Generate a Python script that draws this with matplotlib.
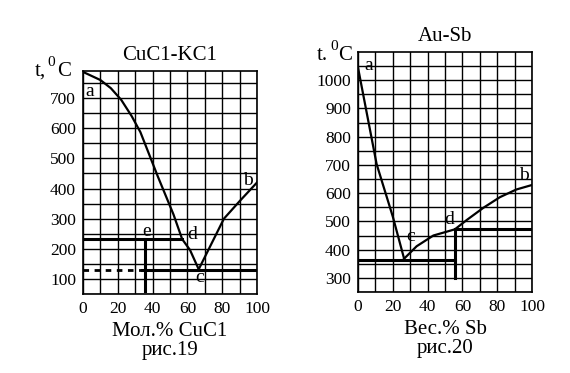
import matplotlib.pyplot as plt

plt.rcParams['font.family'] = ['Liberation Serif', 'DejaVu Serif']

# CuCl-KCl diagram (left)
cu_liq1_x = [0, 10, 16, 22, 28, 33, 43, 52, 57, 61.5, 66.5]
cu_liq1_t = [787, 760, 733, 694, 640, 587, 440, 314, 232, 196, 132]
cu_liq2_x = [66.5, 81, 90, 100]
cu_liq2_t = [132, 300, 358, 420]
cu_d_x, cu_d_t = 57, 232
cu_e_x = 35.5
cu_eut_t = 130
cu_eut_start = 34

# Au-Sb diagram (right)
au_liq1_x = [0, 5, 10.7, 15, 20, 26.5]
au_liq1_t = [1045, 885, 703, 617, 517, 368]
au_liq2_x = [26.5, 33.7, 43.3, 55.7, 62.5, 72, 81.6, 91, 100]
au_liq2_t = [368, 412, 450, 472, 505, 548, 586, 613, 629]
au_eut_t = 365
au_d_x, au_d_t = 55.7, 472

# point labels (letter, x, t)
cu_labels = [("a", 4, 722), ("b", 95, 428), ("e", 36.6, 257), ("d", 62.5, 246), ("c", 67, 104)]
au_labels = [("a", 6, 1051), ("b", 95.4, 662), ("d", 52.3, 508), ("c", 30, 445)]

W, H = 570, 373
fig = plt.figure(figsize=(W / 100, H / 100), dpi=100)


def px(x, y):
    return x / W, 1 - y / H


def setup(ax, ymin, ymax, yticks):
    ax.set_xlim(0, 100)
    ax.set_ylim(ymin, ymax)
    ax.set_xticks(range(0, 101, 20))
    ax.set_xticks(range(0, 101, 10), minor=True)
    ax.set_yticks(yticks)
    ax.set_yticks(range(yticks[0] - 50, ymax, 50), minor=True)
    ax.grid(True, which='both', color='black', linewidth=1)
    ax.tick_params(which='both', length=0, labelsize=12.5, pad=5)
    for s in ax.spines.values():
        s.set_linewidth(1.2)


# Left chart
ax1 = fig.add_axes([83 / W, 1 - 294 / H, 174 / W, 223 / H])
setup(ax1, 60, 790, list(range(100, 701, 100)))
ax1.plot(cu_liq1_x, cu_liq1_t, color='black', lw=1.6)
ax1.plot(cu_liq2_x, cu_liq2_t, color='black', lw=1.6)
ax1.plot([0, cu_d_x], [cu_d_t, cu_d_t], color='black', lw=2.2)
ax1.plot([cu_e_x, cu_e_x], [cu_d_t, 60], color='black', lw=2.2)
ax1.plot([0, cu_eut_start], [cu_eut_t, cu_eut_t], color='black', lw=2, ls=(0, (2, 2)))
ax1.plot([cu_eut_start, 100], [cu_eut_t, cu_eut_t], color='black', lw=2.2)
for lab, x, t in cu_labels:
    ax1.text(x, t, lab, fontsize=14, ha='center', va='center')
ax1.set_title("CuC1-KC1", fontsize=15, pad=8)
ax1.set_xlabel("Мол.% CuC1\nрис.19", fontsize=15, linespacing=0.95, labelpad=4)

# Right chart
ax2 = fig.add_axes([358 / W, 1 - 292 / H, 174 / W, 240 / H])
setup(ax2, 300, 1100, list(range(300, 1001, 100)))
ax2.plot(au_liq1_x, au_liq1_t, color='black', lw=1.6)
ax2.plot(au_liq2_x, au_liq2_t, color='black', lw=1.6)
ax2.plot([0, au_d_x], [au_eut_t, au_eut_t], color='black', lw=2.2)
ax2.plot([au_d_x, au_d_x], [au_d_t, 300], color='black', lw=2.2)
ax2.plot([au_d_x, 100], [au_d_t, au_d_t], color='black', lw=2.2)
for lab, x, t in au_labels:
    ax2.text(x, t, lab, fontsize=14, ha='center', va='center')
ax2.set_title("Au-Sb", fontsize=15, pad=8)
ax2.set_xlabel("Вес.% Sb\nрис.20", fontsize=15, linespacing=0.95, labelpad=4)

# axis unit labels
fig.text(*px(40, 71), "t,", fontsize=15, ha='center', va='center')
fig.text(*px(51, 62), "0", fontsize=11, ha='center', va='center')
fig.text(*px(64, 71), "C", fontsize=15, ha='center', va='center')
fig.text(*px(322, 56), "t.", fontsize=15, ha='center', va='center')
fig.text(*px(334, 46), "0", fontsize=11, ha='center', va='center')
fig.text(*px(345, 56), "C", fontsize=15, ha='center', va='center')

fig.savefig("out.png", dpi=100)
